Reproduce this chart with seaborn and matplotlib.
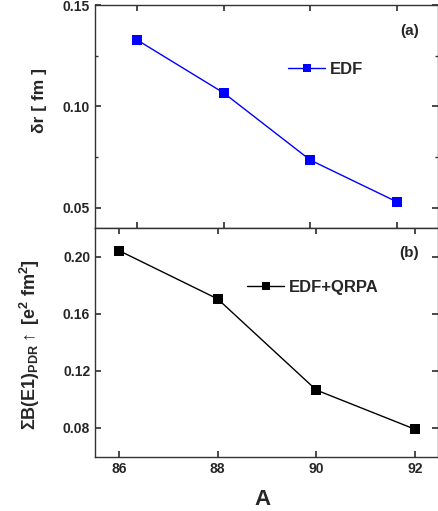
import matplotlib
matplotlib.use("Agg")
import matplotlib.pyplot as plt
import pandas as pd
import seaborn as sns
from matplotlib.ticker import MultipleLocator

# mass number A
mass_a = [86, 88, 90, 92]
# panel (a): neutron skin thickness (fm), EDF
delta_r = [0.1328, 0.1067, 0.0736, 0.0530]
# panel (b): summed PDR strength (e^2 fm^2), EDF+QRPA
sum_b_e1 = [0.2042, 0.1703, 0.1064, 0.0789]


def main() -> None:
    sns.set_theme(style="ticks")
    plt.rcParams["font.family"] = ["Liberation Sans", "DejaVu Sans"]
    plt.rcParams["font.weight"] = "bold"
    plt.rcParams["mathtext.fontset"] = "custom"
    plt.rcParams["mathtext.rm"] = "Liberation Sans:bold"
    plt.rcParams["mathtext.it"] = "Liberation Sans:bold"
    plt.rcParams["mathtext.bf"] = "Liberation Sans:bold"

    df_a = pd.DataFrame({"A": mass_a, "val": delta_r})
    df_b = pd.DataFrame({"A": mass_a, "val": sum_b_e1})

    fig = plt.figure(figsize=(4.39, 5.11), dpi=100)
    ax1 = fig.add_axes([0.2164, 0.5538, 0.7813, 0.4364])
    ax2 = fig.add_axes([0.2164, 0.1057, 0.7813, 0.4481])

    sns.lineplot(data=df_a, x="A", y="val", ax=ax1, color="#0000ff",
                 marker="s", markersize=6.5, markeredgewidth=0,
                 linewidth=1.0, label="EDF")
    sns.lineplot(data=df_b, x="A", y="val", ax=ax2, color="black",
                 marker="s", markersize=6.5, markeredgewidth=0,
                 linewidth=1.0, label="EDF+QRPA")

    ax1.set_xlim(85.03, 92.95)
    ax1.set_ylim(0.0401, 0.15)
    ax1.set_xticks(mass_a)
    ax1.set_xticklabels([])
    ax1.yaxis.set_minor_locator(MultipleLocator(0.025))
    ax1.set_yticks([0.05, 0.10, 0.15])
    ax1.set_yticklabels(["0.05", "0.10", "0.15"])
    ax1.set_xlabel("")
    ax1.set_ylabel("δr [ fm ]", fontsize=12.5, fontweight="bold")
    ax1.yaxis.set_label_coords(-0.14, 0.574)

    ax2.set_xlim(85.51, 92.47)
    ax2.set_ylim(0.0594, 0.2201)
    ax2.set_xticks(mass_a)
    ax2.set_yticks([0.08, 0.12, 0.16, 0.20])
    ax2.set_yticklabels(["0.08", "0.12", "0.16", "0.20"])
    ax2.set_xlabel("A", fontsize=16, fontweight="bold")
    ax2.xaxis.set_label_coords(0.488, -0.14)
    ax2.set_ylabel(r"$\Sigma$B(E1)$_{\rm PDR}$$\uparrow$ [e$^2$ fm$^2$]",
                   fontsize=13, fontweight="bold")
    ax2.yaxis.set_label_coords(-0.155, 0.489)

    for ax in (ax1, ax2):
        for side in ("top", "right", "left", "bottom"):
            ax.spines[side].set_visible(True)
            ax.spines[side].set_color("#333333")
            ax.spines[side].set_linewidth(1.0)
        ax.tick_params(which="both", direction="in", top=True, right=True,
                       labelsize=10, color="#333333")
        ax.tick_params(which="major", length=4)
        ax.tick_params(which="minor", length=2.5)
        for lab in ax.get_xticklabels() + ax.get_yticklabels():
            lab.set_fontweight("bold")

    ax1.legend(loc="center left", bbox_to_anchor=(0.52, 0.71), frameon=False,
               fontsize=12, handlelength=2.2, handletextpad=0.3,
               markerscale=0.8)
    ax2.legend(loc="center left", bbox_to_anchor=(0.4, 0.74), frameon=False,
               fontsize=12, handlelength=2.2, handletextpad=0.3,
               markerscale=0.8)

    ax1.text(0.918, 0.885, "(a)", transform=ax1.transAxes, fontsize=11,
             fontweight="bold", ha="center", va="center")
    ax2.text(0.915, 0.89, "(b)", transform=ax2.transAxes, fontsize=11,
             fontweight="bold", ha="center", va="center")

    fig.savefig("out.png", dpi=100)
    plt.close(fig)


if __name__ == "__main__":
    main()
